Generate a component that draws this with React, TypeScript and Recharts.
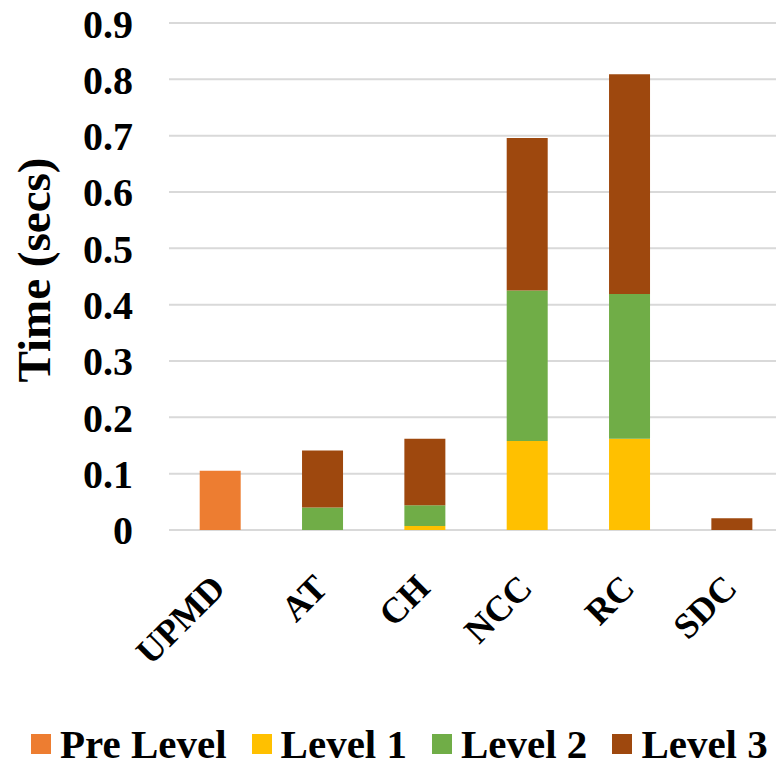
import React from 'react';
import { BarChart, Bar, XAxis, YAxis, CartesianGrid, Legend } from 'recharts';

// Per-method timing (seconds), split by processing stage
const methods = ['UPMD', 'AT', 'CH', 'NCC', 'RC', 'SDC'];
const preLevel = [0.105, 0, 0, 0, 0, 0];
const level1 = [0, 0, 0.007, 0.158, 0.162, 0];
const level2 = [0, 0.04, 0.037, 0.267, 0.257, 0];
const level3 = [0, 0.101, 0.118, 0.271, 0.39, 0.021];
const yTicks = [0, 0.1, 0.2, 0.3, 0.4, 0.5, 0.6, 0.7, 0.8, 0.9];

const seriesNames = ['Pre Level', 'Level 1', 'Level 2', 'Level 3'];
const seriesKeys = ['pre', 'l1', 'l2', 'l3'];
const seriesColors = ['#ED7D31', '#FFC000', '#70AD47', '#9E480E'];

const data = methods.map((m, i) => ({
  name: m,
  pre: preLevel[i],
  l1: level1[i],
  l2: level2[i],
  l3: level3[i],
}));

const FONT = '"Liberation Serif", "Times New Roman", serif';

const XTick = (props: any) => {
  const { x, y, payload } = props;
  const ax = x + 7;
  const ay = y + 60;
  return (
    <text
      x={ax}
      y={ay}
      textAnchor="end"
      transform={`rotate(-45, ${ax}, ${ay})`}
      fontFamily={FONT}
      fontWeight="bold"
      fontSize={36}
      fill="#000"
    >
      {payload.value}
    </text>
  );
};

const YTitle = () => (
  <text
    x={50}
    y={270}
    textAnchor="middle"
    transform="rotate(-90, 50, 270)"
    fontFamily={FONT}
    fontWeight="bold"
    fontSize={47}
    fill="#000"
  >
    Time (secs)
  </text>
);

const LegendContent = () => (
  <div
    style={{
      display: 'flex',
      alignItems: 'center',
      paddingLeft: 31,
      height: 48,
      fontFamily: FONT,
      fontWeight: 'bold',
      fontSize: 41,
      color: '#000',
      whiteSpace: 'nowrap',
    }}
  >
    {seriesNames.map((n, i) => (
      <div key={n} style={{ display: 'flex', alignItems: 'center', marginRight: 25 }}>
        <span
          style={{
            display: 'inline-block',
            width: 20,
            height: 20,
            background: seriesColors[i],
            marginRight: 9,
          }}
        />
        <span style={{ lineHeight: '48px' }}>{n}</span>
      </div>
    ))}
  </div>
);

export default function App() {
  return (
    <div
      style={{
        position: 'absolute',
        left: 0,
        top: 0,
        width: 776,
        height: 768,
        overflow: 'hidden',
        background: '#fff',
      }}
    >
      <BarChart
        width={783}
        height={768}
        data={data}
        margin={{ top: 23, right: 0, left: 0, bottom: 0 }}
        barCategoryGap="30%"
      >
        <CartesianGrid vertical={false} stroke="#d9d9d9" strokeWidth={2} />
        <XAxis
          dataKey="name"
          axisLine={false}
          tickLine={false}
          tickSize={0}
          tickMargin={0}
          height={190}
          interval={0}
          tick={<XTick />}
        />
        <YAxis
          width={169}
          domain={[0, 0.9]}
          ticks={yTicks}
          axisLine={false}
          tickLine={false}
          tickSize={0}
          tickMargin={36}
          tick={{ fontFamily: FONT, fontWeight: 'bold', fontSize: 40, fill: '#000' }}
          label={<YTitle />}
        />
        <Legend
          verticalAlign="bottom"
          height={48}
          wrapperStyle={{ left: 0, width: 776 }}
          content={<LegendContent />}
        />
        {seriesKeys.map((k, i) => (
          <Bar
            key={k}
            dataKey={k}
            name={seriesNames[i]}
            stackId="t"
            fill={seriesColors[i]}
            isAnimationActive={false}
          />
        ))}
      </BarChart>
    </div>
  );
}
